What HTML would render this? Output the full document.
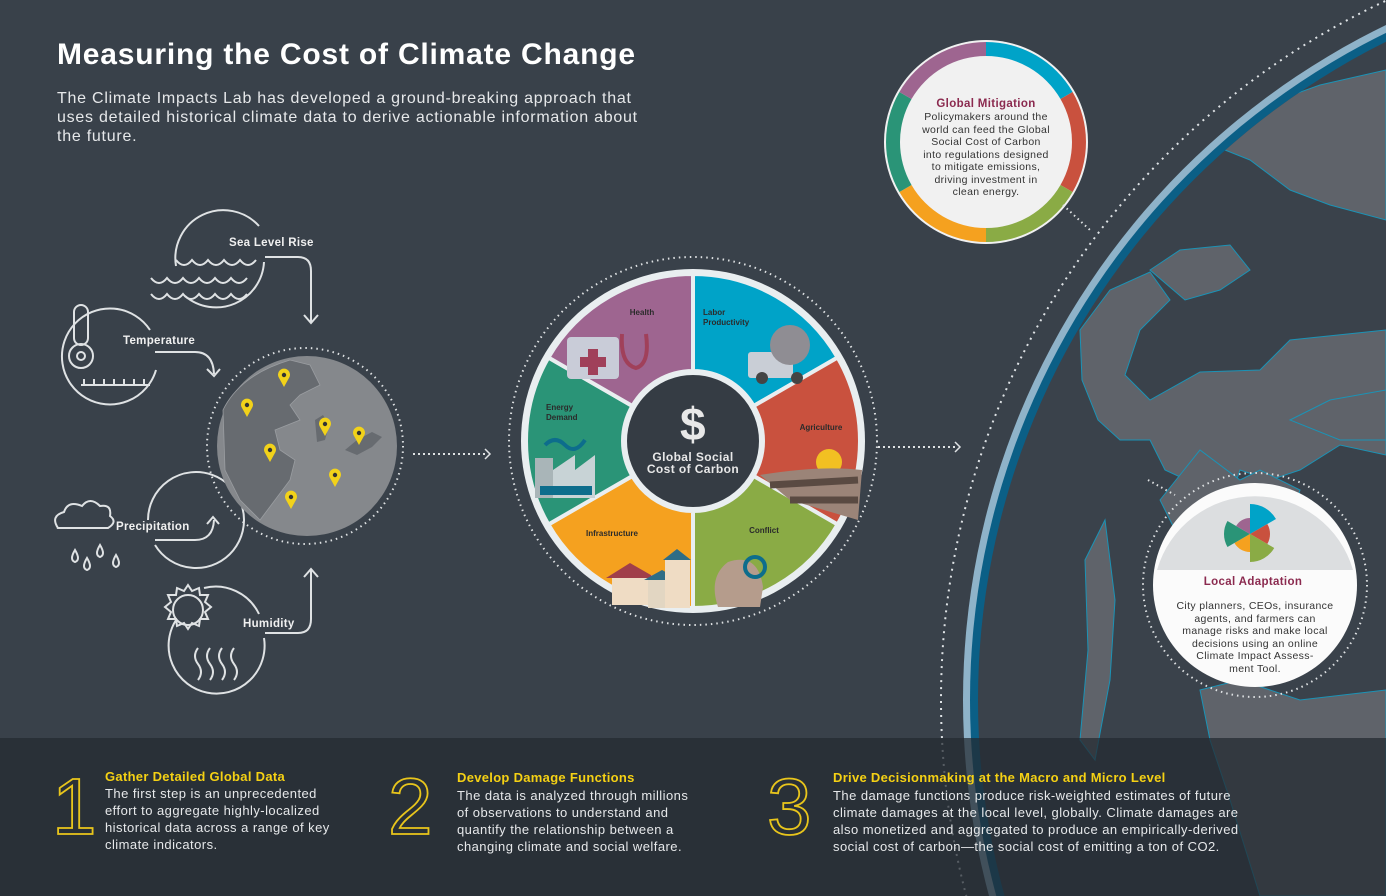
<!DOCTYPE html>
<html><head><meta charset="utf-8"><style>
html,body{margin:0;padding:0;background:#39414a;width:1386px;height:896px;overflow:hidden}
svg{display:block;position:absolute;left:0;top:0}
text{font-family:"Liberation Sans",sans-serif}
</style></head><body>
<svg id="root" width="1386" height="896" viewBox="0 0 1386 896">
<rect width="1386" height="896" fill="#39414a"/>
<defs><clipPath id="gclip"><circle cx="1713" cy="700" r="735"/></clipPath></defs>
<g>
<circle cx="1713" cy="700" r="772" fill="none" stroke="#dfe3e6" stroke-width="2" stroke-dasharray="2 5"/>
<circle cx="1713" cy="700" r="750" fill="#8fb3c9"/>
<circle cx="1713" cy="700" r="743" fill="#0b5f86"/>
<circle cx="1713" cy="700" r="735" fill="#3a424b"/>
<g clip-path="url(#gclip)" fill="#5f636a" stroke="#1b93b6" stroke-width="1">
<polygon points="1080,330 1110,290 1150,272 1170,300 1140,330 1125,375 1150,400 1200,372 1260,370 1290,340 1386,330 1386,455 1340,445 1300,470 1270,480 1240,470 1230,500 1165,470 1150,440 1120,440 1098,420 1082,380"/>
<polygon points="1200,140 1250,110 1320,85 1386,70 1386,220 1330,205 1290,190 1250,160"/>
<polygon points="1150,270 1180,250 1230,245 1250,270 1220,290 1185,300"/>
<polygon points="1160,500 1200,450 1240,480 1260,470 1300,490 1290,520 1230,540 1180,540"/>
<polygon points="1085,560 1105,520 1115,600 1110,680 1095,760 1080,740 1088,650"/>
<polygon points="1200,690 1240,680 1300,700 1386,690 1386,896 1260,896 1230,800 1210,740"/>
<polygon points="1290,420 1330,400 1386,390 1386,440 1340,440"/>
</g>
</g>
<rect x="0" y="738" width="1386" height="158" fill="#222a31" opacity="0.72"/>

<text x="57" y="64" font-size="30" font-weight="bold" fill="#ffffff" letter-spacing="0.8">Measuring the Cost of Climate Change</text>
<g font-size="16" fill="#e6e8ea" letter-spacing="0.75">
<text x="57" y="103">The Climate Impacts Lab has developed a ground-breaking approach that</text>
<text x="57" y="122">uses detailed historical climate data to derive actionable information about</text>
<text x="57" y="141">the future.</text>
</g>

<g fill="none" stroke="#dfe2e4" stroke-width="2">
<g>
<path d="M176,266 A48,48 0 0 1 259,226"/><path d="M264,262 A48,48 0 0 1 185,296"/>
<path d="M151,278 q8,10 16,0 q8,10 16,0 q8,10 16,0 q8,10 16,0 q8,10 16,0 q8,10 16,0"/>
<path d="M151,294 q8,10 16,0 q8,10 16,0 q8,10 16,0 q8,10 16,0 q8,10 16,0 q8,10 16,0"/>
<path d="M176,260 q8,10 16,0 q8,10 16,0 q8,10 16,0 q8,10 16,0 q8,10 16,0"/>
<path d="M265,257 H298 q13,0 13,14 V322"/><path d="M304,315 l7,8 l7,-8"/>
</g>
<g>
<path d="M150,330 A48,48 0 1 0 156,370"/>
<rect x="74" y="305" width="14" height="40" rx="7"/><circle cx="81" cy="356" r="12"/><circle cx="81" cy="356" r="4"/>
<path d="M81,385 H150 M84,385 v-6 M94,385 v-6 M104,385 v-6 M114,385 v-6 M124,385 v-6 M134,385 v-6 M144,385 v-6"/>
<path d="M155,352 H195 q18,0 19,22"/><path d="M207,369 l7,7 l6,-7"/>
</g>
<g>
<path d="M148,520 A48,48 0 1 1 155,545"/>
<path d="M58,528 q-8,-12 6,-16 q4,-12 18,-6 q8,-10 18,0 q12,-2 10,10 q8,6 -2,12 H66 q-10,0 -8,0z"/>
<path d="M75,550 q-6,10 0,12 q6,-2 0,-12z M100,545 q-6,10 0,12 q6,-2 0,-12z M87,558 q-6,10 0,12 q6,-2 0,-12z M116,555 q-6,10 0,12 q6,-2 0,-12z"/>
<path d="M155,540 H195 q18,0 19,-20"/><path d="M207,524 l6,-7 l6,7"/>
</g>
<g>
<path d="M176,620 A48,48 0 1 0 264,638"/><path d="M204,588 A48,48 0 0 1 259,614"/>
<circle cx="188" cy="610" r="15"/>
<path d="M188,585 l4,6 l7,-3 l1,7 l8,0 l-3,7 l6,5 l-6,5 l3,7 l-8,0 l-1,7 l-7,-3 l-4,6 l-4,-6 l-7,3 l-1,-7 l-8,0 l3,-7 l-6,-5 l6,-5 l-3,-7 l8,0 l1,-7 l7,3z"/>
<path d="M198,648 q-6,8 0,16 q6,8 0,16 M210,648 q-6,8 0,16 q6,8 0,16 M222,648 q-6,8 0,16 q6,8 0,16 M234,648 q-6,8 0,16 q6,8 0,16"/>
<path d="M265,633 H298 q13,0 13,-14 V570"/><path d="M304,577 l7,-8 l7,8"/>
</g>
</g>
<g font-size="11.5" font-weight="bold" fill="#f0f0f0" letter-spacing="0.3">
<text x="229" y="246">Sea Level Rise</text>
<text x="123" y="344">Temperature</text>
<text x="116" y="530">Precipitation</text>
<text x="243" y="627">Humidity</text>
</g>

<g>
<circle cx="305" cy="446" r="98" fill="none" stroke="#dfe2e4" stroke-width="2" stroke-dasharray="1.5 4"/>
<circle cx="307" cy="446" r="90" fill="#85888c"/>
<path d="M223,410 Q240,375 290,360 L310,365 L320,385 L300,395 L290,405 L300,420 L275,430 L280,450 L295,460 L290,480 L275,500 L260,520 L240,500 L225,470 Z" fill="#676b70" stroke="#9a9da1" stroke-width="0.8"/>
<path d="M315,420 l8,-5 l6,10 l-4,15 l-8,2z M345,450 l12,-10 l15,-8 l10,5 l-10,10 l-15,8z" fill="#676b70"/>
</g>
<path d="M413,454 H488" stroke="#dfe2e4" stroke-width="2" stroke-dasharray="2 3"/>
<path d="M485,449 l5,5 l-5,5" fill="none" stroke="#dfe2e4" stroke-width="1.5"/>
<path d="M878,447 H958" stroke="#dfe2e4" stroke-width="2" stroke-dasharray="2 3"/>
<path d="M955,442 l5,5 l-5,5" fill="none" stroke="#dfe2e4" stroke-width="1.5"/>

<g id="wheel">
<circle cx="693" cy="441" r="184" fill="none" stroke="#dfe2e4" stroke-width="2" stroke-dasharray="1.5 4"/>
<circle cx="693" cy="441" r="172" fill="#e9eef0"/>
</g>

<g id="mit">
<circle cx="986" cy="142" r="102" fill="#f1f1f1"/>
</g>
<path d="M1063,205 L1090,230" stroke="#dfe2e4" stroke-width="2" stroke-dasharray="1.5 3.5"/>
<g text-anchor="middle" font-size="10.5" fill="#333" letter-spacing="0.35">
<text x="986" y="107" font-weight="bold" font-size="11.5" fill="#8b2a4f">Global Mitigation</text>
<text x="986" y="120">Policymakers around the</text>
<text x="986" y="133">world can feed the Global</text>
<text x="986" y="145">Social Cost of Carbon</text>
<text x="986" y="158">into regulations designed</text>
<text x="986" y="170">to mitigate emissions,</text>
<text x="986" y="183">driving investment in</text>
<text x="986" y="195">clean energy.</text>
</g>

<g>
<path d="M1148,480 L1175,495" stroke="#dfe2e4" stroke-width="2" stroke-dasharray="1.5 3.5"/>
<circle cx="1255" cy="585" r="112" fill="none" stroke="#dfe2e4" stroke-width="2" stroke-dasharray="1.5 4"/>
<circle cx="1255" cy="585" r="102" fill="#fbfbfb"/>
<path d="M1157,570 A102,102 0 0 1 1353,570 Z" fill="#dcdee0"/>
<g id="rose"></g>
<g text-anchor="middle" font-size="10.5" fill="#333" letter-spacing="0.35">
<text x="1253" y="585" font-weight="bold" font-size="11.5" fill="#8b2a4f">Local Adaptation</text>
<text x="1255" y="609">City planners, CEOs, insurance</text>
<text x="1255" y="622">agents, and farmers can</text>
<text x="1255" y="634">manage risks and make local</text>
<text x="1255" y="647">decisions using an online</text>
<text x="1255" y="659">Climate Impact Assess-</text>
<text x="1255" y="672">ment Tool.</text>
</g>
</g>

<g font-size="80" fill="none" stroke="#e8c51c" stroke-width="1.8">
<text x="52" y="834">1</text>
<text x="388" y="834">2</text>
<text x="767" y="834">3</text>
</g>
<g font-size="13" font-weight="bold" fill="#f5d114" letter-spacing="0.3">
<text x="105" y="781">Gather Detailed Global Data</text>
<text x="457" y="782">Develop Damage Functions</text>
<text x="833" y="782">Drive Decisionmaking at the Macro and Micro Level</text>
</g>
<g font-size="13" fill="#e6e8ea" letter-spacing="0.45">
<text x="105" y="798">The first step is an unprecedented</text>
<text x="105" y="815">effort to aggregate highly-localized</text>
<text x="105" y="832">historical data across a range of key</text>
<text x="105" y="849">climate indicators.</text>
<text x="457" y="800">The data is analyzed through millions</text>
<text x="457" y="817">of observations to understand and</text>
<text x="457" y="834">quantify the relationship between a</text>
<text x="457" y="851">changing climate and social welfare.</text>
<text x="833" y="800">The damage functions produce risk-weighted estimates of future</text>
<text x="833" y="817">climate damages at the local level, globally. Climate damages are</text>
<text x="833" y="834">also monetized and aggregated to produce an empirically-derived</text>
<text x="833" y="851">social cost of carbon—the social cost of emitting a ton of CO2.</text>
</g>
</svg>
<script>
const NS='http://www.w3.org/2000/svg';
const categories=['Labor Productivity','Agriculture','Conflict','Infrastructure','Energy Demand','Health'];
const sliceColors=['#00a3c8','#c9513e','#8aab45','#f5a11f','#2a9477','#9e6590'];
const sliceShares=[1,1,1,1,1,1];
const roseRadii=[30,20,28,18,26,16];
const pinLons=[284,247,325,359,270,335,291];
const pinLats=[375,405,424,433,450,475,497];

function arcPath(cx,cy,r0,r1,a0,a1){
  const p=(r,a)=>[cx+r*Math.cos(a),cy-r*Math.sin(a)];
  const [x1,y1]=p(r1,a0),[x2,y2]=p(r1,a1),[x3,y3]=p(r0,a1),[x4,y4]=p(r0,a0);
  const big=Math.abs(a0-a1)>Math.PI?1:0;
  return `M${x1},${y1} A${r1},${r1} 0 ${big} 1 ${x2},${y2} L${x3},${y3} A${r0},${r0} 0 ${big} 0 ${x4},${y4}Z`;
}
const total=sliceShares.reduce((a,b)=>a+b,0);
function angleAt(i){let s=0;for(let k=0;k<i;k++)s+=sliceShares[k];return Math.PI/2-s/total*2*Math.PI;}

const wheel=document.getElementById('wheel');
categories.forEach((c,i)=>{
  const p=document.createElementNS(NS,'path');
  p.setAttribute('d',arcPath(693,441,70,167,angleAt(i),angleAt(i+1)));
  p.setAttribute('fill',sliceColors[i]);
  p.setAttribute('stroke','#e9eef0');p.setAttribute('stroke-width','4');
  
  
  wheel.appendChild(p);
});
const labelPos=[[703,315,'start'],[821,430,'middle'],[764,533,'middle'],[612,536,'middle'],[546,410,'start'],[642,315,'middle']];
categories.forEach((c,i)=>{
  const words=(c==='Labor Productivity'||c==='Energy Demand')?c.split(' '):[c];
  words.forEach((w,j)=>{
    const t=document.createElementNS(NS,'text');
    t.setAttribute('x',labelPos[i][0]);t.setAttribute('y',labelPos[i][1]+j*10);
    t.setAttribute('text-anchor',labelPos[i][2]);
    t.setAttribute('font-size','8');t.setAttribute('font-weight','bold');t.setAttribute('fill','#2b2b2b');
    
    
    t.textContent=w;wheel.appendChild(t);
  });
});
const icons=[
 ['rect',{x:748,y:352,width:45,height:26,rx:3,fill:'#c9ced6'}],
 ['circle',{cx:790,cy:345,r:20,fill:'#8f8d93'}],
 ['circle',{cx:762,cy:378,r:6,fill:'#444'}],['circle',{cx:797,cy:378,r:6,fill:'#444'}],
 ['rect',{x:567,y:337,width:52,height:42,rx:4,fill:'#c9ccd8'}],
 ['rect',{x:588,y:349,width:10,height:26,fill:'#a0405a'}],['rect',{x:580,y:357,width:26,height:10,fill:'#a0405a'}],
 ['path',{d:'M622,334 q-2,30 14,34 q14,-4 10,-34',fill:'none',stroke:'#a0405a','stroke-width':4}],
 ['circle',{cx:829,cy:462,r:13,fill:'#f2c022'}],
 ['path',{d:'M760,475 Q820,465 862,470 L858,520 L790,500Z',fill:'#9b8478'}],
 ['path',{d:'M770,485 L858,480 M790,500 L858,500',stroke:'#5a4a42','stroke-width':7,fill:'none'}],
 ['rect',{x:535,y:458,width:18,height:40,fill:'#a9b5b8'}],
 ['path',{d:'M553,498 L553,470 L575,455 L575,470 L595,455 L595,498Z',fill:'#c8d3d6'}],
 ['rect',{x:540,y:486,width:52,height:9,fill:'#0d6d8c'}],
 ['path',{d:'M545,445 q10,-10 20,0 q10,10 20,-5',fill:'none',stroke:'#0d6d8c','stroke-width':4}],
 ['path',{d:'M718,607 q-10,-30 10,-45 q30,-10 35,25 L760,607Z',fill:'#b59c8c'}],
 ['circle',{cx:755,cy:567,r:10,fill:'none',stroke:'#0d6d8c','stroke-width':4}],
 ['rect',{x:612,y:575,width:40,height:30,fill:'#efdcc4'}],
 ['path',{d:'M606,578 L630,563 L656,578Z',fill:'#a03f4a'}],
 ['rect',{x:648,y:578,width:30,height:30,fill:'#e2d6c2'}],
 ['path',{d:'M644,580 L662,570 L680,580Z',fill:'#2f6d86'}],
 ['rect',{x:665,y:560,width:25,height:48,fill:'#efdcc4'}],
 ['path',{d:'M663,560 L677,549 L691,560Z',fill:'#2f6d86'}]
];
icons.forEach(([tag,attrs])=>{
  const e=document.createElementNS(NS,tag);
  for(const k in attrs)e.setAttribute(k,attrs[k]);
  
  
  wheel.appendChild(e);
});
const cc=document.createElementNS(NS,'circle');
cc.setAttribute('cx',693);cc.setAttribute('cy',441);cc.setAttribute('r',68);
cc.setAttribute('fill','#353c44');cc.setAttribute('stroke','#e9eef0');cc.setAttribute('stroke-width','4');


wheel.appendChild(cc);
[['$',693,440,46],['Global Social',693,461,12],['Cost of Carbon',693,473,12]].forEach(([s,x,y,f])=>{
  const t=document.createElementNS(NS,'text');
  t.setAttribute('x',x);t.setAttribute('y',y);t.setAttribute('text-anchor','middle');
  t.setAttribute('font-size',f);t.setAttribute('font-weight','bold');t.setAttribute('fill','#e8e8e8');
  t.setAttribute('letter-spacing','0.4');
  
  
  t.textContent=s;wheel.appendChild(t);
});
const mit=document.getElementById('mit');
categories.forEach((c,i)=>{
  const p=document.createElementNS(NS,'path');
  p.setAttribute('d',arcPath(986,142,86,100,angleAt(i),angleAt(i+1)));
  p.setAttribute('fill',sliceColors[i]);
  
  
  mit.appendChild(p);
});
const rose=document.getElementById('rose');
categories.forEach((c,i)=>{
  const p=document.createElementNS(NS,'path');
  p.setAttribute('d',arcPath(1250,534,0.1,roseRadii[i],angleAt(i),angleAt(i+1)));
  p.setAttribute('fill',sliceColors[i]);
  
  
  rose.appendChild(p);
});
const root=document.getElementById('root');
pinLons.forEach((x,i)=>{
  const y=pinLats[i];
  const p=document.createElementNS(NS,'path');
  p.setAttribute('d',`M${x},${y+12} L${x-5.5},${y+2} A6,6 0 1 1 ${x+5.5},${y+2}Z`);
  p.setAttribute('fill','#f2d21a');
  
  
  root.appendChild(p);
  const d=document.createElementNS(NS,'circle');
  d.setAttribute('cx',x);d.setAttribute('cy',y);d.setAttribute('r',2.2);d.setAttribute('fill','#333');
  
  
  root.appendChild(d);
});
</script>
</body></html>
